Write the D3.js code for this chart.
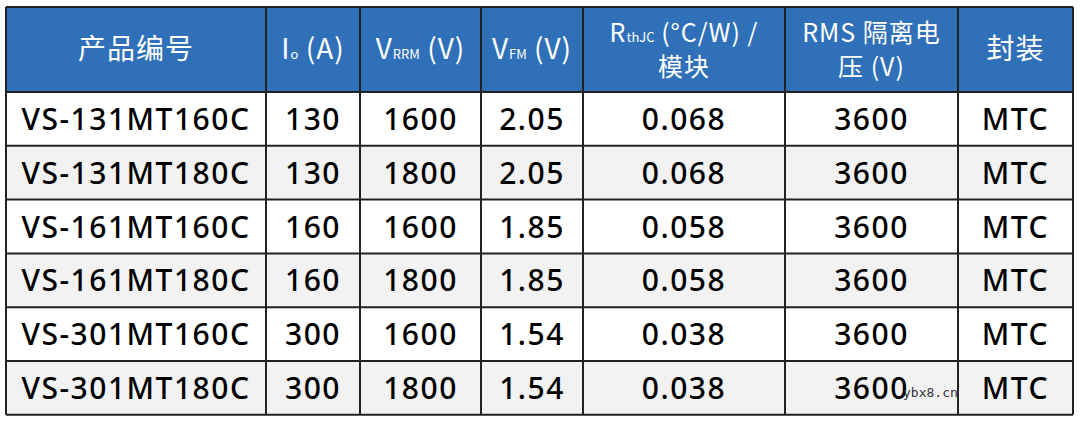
<!DOCTYPE html>
<html><head><meta charset="utf-8">
<script src="https://cdn.jsdelivr.net/npm/d3@7"></script>
<style>body{margin:0;background:#fff}</style>
</head><body><svg id="c" width="1080" height="421"></svg>
<script>
const headers = [
  [["产品编号"]],
  [["I", "o", " (A)"]],
  [["V", "RRM", " (V)"]],
  [["V", "FM", " (V)"]],
  [["R", "thJC", " (°C/W) /"], ["模块"]],
  [["RMS 隔离电"], ["压 (V)"]],
  [["封装"]]
];
const parts = ["VS-131MT160C", "VS-131MT180C", "VS-161MT160C", "VS-161MT180C", "VS-301MT160C", "VS-301MT180C"];
const io = ["130", "130", "160", "160", "300", "300"];
const vrrm = ["1600", "1800", "1600", "1800", "1600", "1800"];
const vfm = ["2.05", "2.05", "1.85", "1.85", "1.54", "1.54"];
const rth = ["0.068", "0.068", "0.058", "0.058", "0.038", "0.038"];
const viso = ["3600", "3600", "3600", "3600", "3600", "3600"];
const pkg = ["MTC", "MTC", "MTC", "MTC", "MTC", "MTC"];

const colEdges = [6, 266, 360, 481, 583, 785, 958, 1073];
const tableTop = 7, headH = 85, rowH = 53.8;
const svg = d3.select("#c");
const font = "'Noto Sans CJK SC', 'Noto Sans', sans-serif";

const rows = parts.map((p, i) => [p, io[i], vrrm[i], vfm[i], rth[i], viso[i], pkg[i]]);
const y = d3.scaleLinear().domain([0, rows.length]).range([tableTop + headH, tableTop + headH + rowH * rows.length]);

// header
svg.append("rect").attr("x", colEdges[0]).attr("y", tableTop).attr("width", colEdges[7] - colEdges[0]).attr("height", headH).attr("fill", "#2F70B9");
// body backgrounds
svg.selectAll(".bg").data(rows).join("rect")
  .attr("x", colEdges[0]).attr("y", (d, i) => y(i)).attr("width", colEdges[7] - colEdges[0]).attr("height", rowH)
  .attr("fill", (d, i) => i % 2 ? "#F2F2F2" : "#fff");

headers.forEach((lines, c) => {
  const cx = (colEdges[c] + colEdges[c + 1]) / 2;
  const n = lines.length;
  lines.forEach((segs, li) => {
    const t = svg.append("text").attr("x", cx).attr("text-anchor", "middle")
      .attr("y", tableTop + headH / 2 + (li - (n - 1) / 2) * 34 + 9)
      .attr("fill", "#fff").attr("font-family", font).attr("font-size", n > 1 ? 25 : 28)
      .attr("letter-spacing", 1);
    if (segs.length === 1) { t.text(segs[0]); return; }
    t.append("tspan").text(segs[0]);
    t.append("tspan").attr("font-size", 13).attr("letter-spacing", 0).text(segs[1]);
    t.append("tspan").text(segs[2]);
  });
});

rows.forEach((r, i) => {
  r.forEach((v, c) => {
    svg.append("text").attr("x", (colEdges[c] + colEdges[c + 1]) / 2).attr("y", y(i) + rowH / 2 + 11)
      .attr("text-anchor", "middle").attr("font-family", "'Noto Sans', sans-serif").attr("font-weight", 500)
      .attr("font-size", 30).attr("letter-spacing", 1.5).attr("fill", "#000").text(v);
  });
});

// grid lines
const bottom = y(rows.length);
svg.selectAll(".vl").data(colEdges).join("line")
  .attr("x1", d => d).attr("x2", d => d).attr("y1", tableTop).attr("y2", bottom).attr("stroke", "#222").attr("stroke-width", 2);
svg.selectAll(".hl").data(d3.range(rows.length + 1)).join("line")
  .attr("x1", colEdges[0]).attr("x2", colEdges[7]).attr("y1", d => y(d)).attr("y2", d => y(d)).attr("stroke", "#222").attr("stroke-width", 2);
svg.append("line").attr("x1", colEdges[0]).attr("x2", colEdges[7]).attr("y1", tableTop).attr("y2", tableTop).attr("stroke", "#222").attr("stroke-width", 2);

svg.append("text").attr("x", 903).attr("y", 397).attr("font-family", "'DejaVu Sans Mono', monospace").attr("font-size", 13).attr("fill", "#333").text("ybx8.cn");
</script></body></html>
